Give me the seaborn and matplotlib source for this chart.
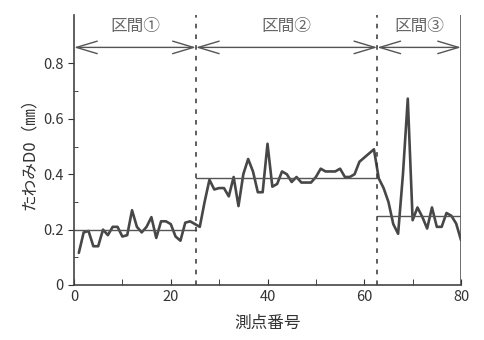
import numpy as np
import pandas as pd
import matplotlib
matplotlib.use("Agg")
import matplotlib.pyplot as plt
import seaborn as sns

# --- data ---
points = list(range(1, 81))
deflection = [
    0.116, 0.19, 0.195, 0.14, 0.14, 0.20, 0.18, 0.21, 0.21, 0.175,
    0.18, 0.27, 0.21, 0.19, 0.21, 0.245, 0.17, 0.23, 0.23, 0.22,
    0.175, 0.16, 0.225, 0.23, 0.22, 0.21, 0.30, 0.38, 0.345, 0.35,
    0.35, 0.32, 0.39, 0.285, 0.40, 0.455, 0.41, 0.335, 0.335, 0.51,
    0.355, 0.365, 0.41, 0.40, 0.372, 0.39, 0.37, 0.37, 0.37, 0.39,
    0.42, 0.41, 0.41, 0.41, 0.42, 0.39, 0.39, 0.40, 0.445, 0.46,
    0.475, 0.49, 0.385, 0.35, 0.30, 0.22, 0.185, 0.40, 0.673, 0.234,
    0.28, 0.246, 0.204, 0.28, 0.21, 0.21, 0.26, 0.25, 0.222, 0.162,
]
section_labels = ["区間①", "区間②", "区間③"]
section_bounds = [0, 25.2, 62.7, 80]
section_means = [0.20, 0.388, 0.249]
x_ticks = [0, 20, 40, 60, 80]
y_ticks = [0, 0.2, 0.4, 0.6, 0.8]

df = pd.DataFrame({"x": points, "y": deflection})

sns.set_style("ticks")
plt.rcParams["font.family"] = ["Noto Sans CJK JP", "DejaVu Sans"]

fig = plt.figure(figsize=(4.85, 3.4), dpi=100)
ax = fig.add_axes([74/485, 1-285/340, (461-74)/485, (285-15)/340])

sns.lineplot(data=df, x="x", y="y", ax=ax, color="#474747", linewidth=1.9)

# section mean lines
for i, m in enumerate(section_means):
    ax.plot([section_bounds[i], section_bounds[i+1]], [m, m], color="#555555", linewidth=1.0)

# section boundaries
for b in section_bounds[1:-1]:
    ax.axvline(b, color="#333333", linewidth=1.1, linestyle=(0, (3, 4)))
ax.axvline(section_bounds[-1], color="#555555", linewidth=1.2)

# arrows and labels
arrow_y = 0.858
for i, lab in enumerate(section_labels):
    a, b = section_bounds[i], section_bounds[i+1]
    ax.annotate("", xy=(a, arrow_y), xytext=(b, arrow_y),
                arrowprops=dict(arrowstyle="<->,head_length=1.5,head_width=0.45",
                                color="#555555", lw=1.0, shrinkA=0, shrinkB=0))
    ax.text((a + b) / 2, 0.935, lab, ha="center", va="center", fontsize=12, color="#666666")

ax.set_xlim(0, 80)
ax.set_ylim(0, 0.975)
ax.set_xticks(x_ticks)
ax.set_xticks([10, 30, 50, 70], minor=True)
ax.set_yticks(y_ticks)
ax.set_yticks([0.1, 0.3, 0.5, 0.7], minor=True)
ax.set_yticklabels(["0", "0.2", "0.4", "0.6", "0.8"])
ax.tick_params(axis="both", labelsize=10.5, colors="#333333")
ax.tick_params(axis="x", which="both", direction="in", length=4)
ax.tick_params(axis="y", which="major", direction="out", length=4)
ax.tick_params(axis="y", which="minor", direction="in", length=3)

for s in ["top", "right"]:
    ax.spines[s].set_visible(False)
for s in ["left", "bottom"]:
    ax.spines[s].set_color("#444444")
    ax.spines[s].set_linewidth(1.2)

ax.set_xlabel("測点番号", fontsize=12, color="#333333", labelpad=8)
ax.set_ylabel("たわみD0（㎜）", fontsize=12, color="#333333", labelpad=4)

fig.savefig("out.png", dpi=100)
